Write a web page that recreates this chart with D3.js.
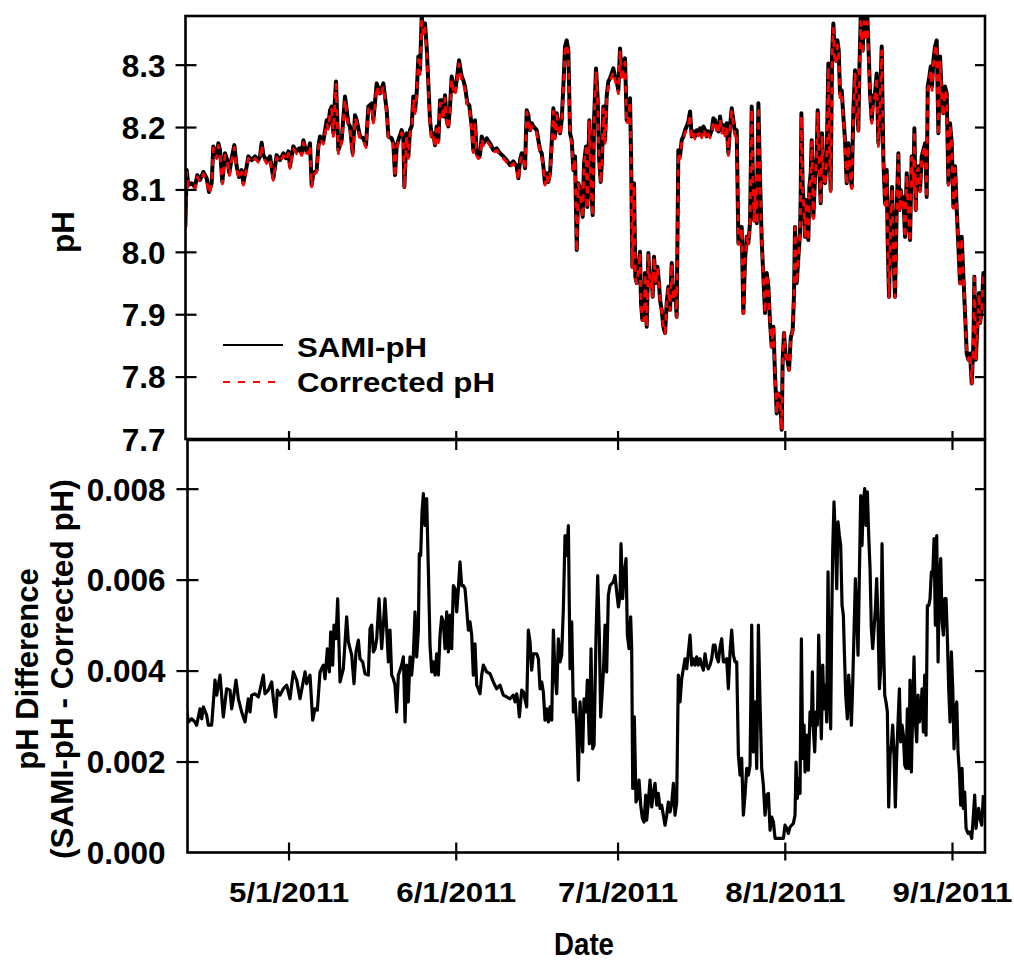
<!DOCTYPE html>
<html>
<head>
<meta charset="utf-8">
<script src="https://cdn.jsdelivr.net/npm/d3@7"></script>
<style>
  body { margin: 0; background: #fff; }
  text { font-family: "Liberation Sans", Arial, Helvetica, sans-serif; font-weight: bold; fill: #000; }
</style>
</head>
<body>
<svg id="chart" width="1014" height="961"></svg>
<script>
// Sample times are days counted from 1 April 2011 (UTC).
const recordStart = Date.UTC(2011, 3, 1);
const DAY_MS = 864e5;

// SAMI-pH record: [day, pH]
const samiPH = [
  [10.87,8.040],[11.12,8.131],[11.42,8.107],[12.04,8.110],[12.66,8.104],[13.09,8.123],[13.59,8.115],[14.21,8.128],
  [14.82,8.118],[15.26,8.096],[15.75,8.110],[16.06,8.169],[16.37,8.158],[16.68,8.153],[16.99,8.174],[17.30,8.163],
  [17.73,8.112],[18.22,8.158],[18.66,8.147],[19.03,8.126],[19.46,8.150],[19.95,8.171],[20.39,8.137],[20.82,8.120],
  [21.31,8.131],[21.62,8.110],[22.24,8.137],[22.55,8.153],[23.17,8.147],[23.79,8.153],[24.40,8.147],[24.71,8.153],
  [25.02,8.175],[25.33,8.155],[25.95,8.145],[26.57,8.153],[27.18,8.118],[27.80,8.155],[28.42,8.147],[29.04,8.158],
  [29.53,8.150],[29.97,8.161],[30.27,8.137],[30.89,8.169],[31.51,8.161],[32.00,8.166],[32.44,8.158],[32.75,8.179],
  [33.18,8.163],[33.67,8.161],[33.98,8.174],[34.29,8.107],[34.60,8.126],[35.22,8.131],[35.53,8.169],[35.84,8.185],
  [36.45,8.177],[37.07,8.211],[37.38,8.201],[37.69,8.227],[38.00,8.233],[38.31,8.190],[38.56,8.238],[38.80,8.273],
  [39.24,8.163],[39.85,8.179],[40.47,8.249],[41.09,8.206],[41.40,8.201],[41.89,8.158],[42.33,8.219],[42.64,8.211],
  [43.25,8.185],[43.87,8.182],[44.37,8.171],[44.80,8.233],[45.42,8.238],[45.73,8.211],[46.35,8.270],
  [46.96,8.254],[47.58,8.270],[48.20,8.227],[48.51,8.185],[49.12,8.182],[49.43,8.174],[49.74,8.123],[50.05,8.169],
  [50.36,8.179],[50.98,8.195],[51.29,8.185],[51.47,8.104],[51.90,8.190],[52.21,8.153],[52.52,8.195],[52.83,8.201],
  [53.14,8.249],[53.45,8.227],[53.76,8.254],[54.07,8.313],[54.38,8.291],[54.69,8.377],[55.00,8.355],[55.30,8.366],
  [55.61,8.329],[55.92,8.270],[56.23,8.211],[56.54,8.185],[56.85,8.190],[57.16,8.171],[57.47,8.201],[57.78,8.179],
  [58.09,8.243],[58.39,8.243],[58.70,8.217],[59.01,8.251],[59.32,8.211],[59.63,8.201],[59.94,8.233],[60.25,8.281],
  [60.56,8.265],[60.87,8.257],[61.18,8.275],[61.61,8.307],[62.10,8.281],[62.41,8.275],[62.72,8.265],[63.15,8.238],
  [63.52,8.235],[63.96,8.201],[64.26,8.163],[64.57,8.211],[64.88,8.158],[65.19,8.153],[65.50,8.155],[65.81,8.185],
  [66.12,8.174],[66.74,8.182],[67.36,8.174],[67.97,8.163],[68.59,8.166],[69.21,8.158],[69.83,8.153],[70.45,8.147],
  [71.06,8.139],[71.68,8.145],[72.30,8.137],[72.61,8.118],[72.92,8.147],[73.23,8.158],[73.54,8.153],[73.85,8.134],
  [74.15,8.227],[74.46,8.219],[74.77,8.195],[75.08,8.206],[75.39,8.201],[76.01,8.195],[76.63,8.163],[76.94,8.158],
  [77.24,8.137],[77.55,8.110],[77.86,8.126],[78.17,8.112],[78.48,8.126],[78.79,8.174],[79.10,8.230],[79.41,8.185],
  [79.72,8.222],[80.03,8.203],[80.34,8.190],[80.64,8.211],[80.95,8.265],[81.26,8.329],[81.57,8.339],[81.88,8.323],
  [82.19,8.190],[82.50,8.179],[82.81,8.131],[83.12,8.153],[83.43,8.003],[83.73,8.110],
  [84.04,8.099],[84.53,8.056],[84.78,8.142],[85.15,8.169],[85.40,8.072],[85.77,8.211],[86.02,8.120],[86.39,8.059],
  [86.64,8.211],[87.01,8.294],[87.32,8.243],[87.56,8.153],[87.87,8.112],[88.12,8.147],[88.37,8.233],[88.68,8.179],
  [88.98,8.249],[89.29,8.273],[89.60,8.278],[89.91,8.286],[90.22,8.294],[90.53,8.281],[90.84,8.273],[91.15,8.259],
  [91.46,8.326],[91.77,8.281],[92.07,8.302],[92.38,8.310],[92.69,8.211],[93.00,8.217],[93.31,8.246],[93.50,8.158],
  [93.74,7.976],[94.05,8.110],[94.30,7.960],[94.55,7.950],[94.86,7.971],[95.16,8.000],[95.35,7.918],[95.60,7.891],
  [95.91,7.891],[96.09,7.966],[96.40,7.880],[96.71,7.998],[97.02,7.944],[97.33,7.960],[97.51,7.928],[97.76,7.992],
  [98.07,7.950],[98.38,7.976],[98.69,7.950],[98.87,7.923],[99.18,7.907],[99.49,7.880],[99.80,7.870],[100.11,7.918],
  [100.42,7.944],[100.73,7.907],[101.04,7.982],[101.35,7.923],[101.65,7.944],[101.96,7.896],[102.27,8.163],[102.58,8.153],
  [102.89,8.179],[103.20,8.185],[103.51,8.195],[103.82,8.201],[104.13,8.209],[104.44,8.225],[104.74,8.185],[105.05,8.193],
  [105.36,8.185],[105.67,8.195],[105.98,8.190],[106.29,8.198],[106.60,8.187],[106.91,8.201],[107.22,8.195],[107.53,8.185],
  [107.83,8.193],[108.14,8.187],[108.45,8.195],[108.76,8.214],[109.07,8.211],[109.38,8.198],[109.69,8.193],[110.00,8.217],
  [110.31,8.195],[110.62,8.203],[110.92,8.190],[111.23,8.206],[111.54,8.158],[111.85,8.201],[112.16,8.230],[112.47,8.211],
  [112.78,8.190],[113.09,8.195],[113.40,8.014],[113.71,8.014],[114.01,8.040],[114.32,7.902],[114.63,7.987],[114.94,8.024],
  [115.25,8.014],[115.56,8.046],[115.87,8.233],[116.05,8.137],[116.30,8.051],[116.55,8.104],[116.80,8.046],[117.11,8.238],
  [117.41,8.120],[117.72,8.019],[118.03,7.960],[118.34,7.902],[118.65,7.966],[118.96,7.944],[119.27,7.886],[119.58,7.848],
  [119.89,7.880],[120.20,7.800],[120.51,7.741],[120.81,7.773],
  [121.12,7.768],[121.43,7.715],[121.61,7.827],[121.86,7.870],[122.17,7.832],[122.48,7.827],[122.79,7.811],[123.10,7.862],
  [123.47,7.875],[123.72,7.934],[123.90,8.040],[124.21,7.950],[124.52,7.992],[124.83,8.030],[124.95,8.088],[125.08,8.222],
  [125.32,8.104],[125.57,8.067],[125.76,8.024],[125.94,8.083],[126.19,8.051],[126.37,8.019],[126.56,8.104],[126.81,8.126],
  [126.99,8.179],[127.30,8.056],[127.61,8.120],[127.92,8.158],[128.10,8.227],[128.41,8.131],[128.66,8.078],[128.91,8.190],
  [129.15,8.126],[129.46,8.110],[129.77,8.147],[130.08,8.302],[130.27,8.174],[130.51,8.099],[130.76,8.313],[131.01,8.366],
  [131.19,8.323],[131.50,8.307],[131.75,8.339],[132.00,8.323],[132.24,8.254],[132.55,8.259],[132.86,8.217],[133.17,8.179],
  [133.48,8.110],[133.79,8.174],[134.10,8.131],[134.41,8.104],[134.72,8.227],[135.03,8.291],[135.33,8.243],[135.64,8.195],
  [135.83,8.291],[136.08,8.377],[136.45,8.323],[136.70,8.377],[137.07,8.345],[137.31,8.377],[137.50,8.334],[137.81,8.254],
  [138.12,8.211],[138.43,8.249],[138.73,8.254],[139.04,8.286],[139.35,8.174],[139.66,8.238],[139.97,8.329],[140.28,8.147],
  [140.59,8.078],[140.90,8.131],[141.08,8.014],[141.33,7.928],[141.64,8.056],[141.89,8.104],[142.13,7.998],[142.44,7.928],
  [142.75,8.067],[143.06,8.158],[143.25,8.067],[143.49,8.099],[143.74,8.078],[143.99,8.088],[144.30,8.024],[144.61,8.126],
  [144.91,8.062],[145.22,8.019],[145.53,8.153],[145.84,8.110],[146.03,8.198],[146.27,8.067],[146.46,8.131],[146.77,8.137],
  [147.08,8.099],[147.39,8.153],[147.70,8.163],[148.00,8.174],[148.31,8.088],[148.50,8.265],[148.81,8.281],[149.06,8.297],
  [149.30,8.265],[149.55,8.307],[149.86,8.329],[150.17,8.339],[150.48,8.190],[150.79,8.313],[151.10,8.249],[151.40,8.222],
  [151.71,8.265],[152.02,8.254],[152.33,8.110],[152.64,8.206],[152.95,8.174],[153.26,8.072],[153.57,8.137],[153.88,8.067],
  [154.19,8.008],[154.49,7.950],[154.80,8.024],[155.11,7.960],[155.42,7.902],[155.73,7.837],[156.04,7.827],[156.35,7.837],
  [156.66,7.789],[156.97,7.853],[157.15,7.960],[157.40,7.827],[157.71,7.880],[158.02,7.934],[158.20,7.886],[158.51,7.907],
  [158.82,7.966],[159.07,7.923]
];

// SAMI-pH minus corrected pH: [day, difference]
const phDifference = [
  [11.12,0.00316],[11.42,0.00287],[12.04,0.00294],[12.66,0.00287],[12.97,0.00280],[13.59,0.00316],[13.90,0.00294],[14.21,0.00320],
  [14.82,0.00302],[15.13,0.00280],[15.75,0.00280],[16.37,0.00379],[16.68,0.00346],[17.30,0.00390],[17.91,0.00298],[18.53,0.00360],
  [19.15,0.00357],[19.46,0.00316],[19.77,0.00338],[20.26,0.00379],[20.70,0.00338],[21.31,0.00309],[21.93,0.00287],[22.55,0.00338],
  [22.86,0.00309],[23.17,0.00346],[23.79,0.00349],[24.40,0.00342],[24.71,0.00357],[25.33,0.00390],[25.64,0.00349],[26.26,0.00357],
  [26.88,0.00375],[27.18,0.00338],[27.62,0.00298],[27.93,0.00357],[28.42,0.00346],[29.04,0.00360],[29.66,0.00368],[30.27,0.00338],
  [30.89,0.00397],[31.51,0.00379],[32.13,0.00338],[33.06,0.00397],[33.37,0.00371],[33.98,0.00390],[34.48,0.00291],[34.91,0.00316],
  [35.34,0.00313],[35.84,0.00397],[36.45,0.00412],[36.76,0.00382],[37.20,0.00448],[37.57,0.00397],[37.82,0.00485],[38.19,0.00412],
  [38.43,0.00500],[38.80,0.00470],[39.11,0.00558],[39.55,0.00375],[40.16,0.00404],[40.78,0.00518],[41.09,0.00463],[41.71,0.00434],
  [42.14,0.00371],[42.51,0.00441],[42.95,0.00467],[43.25,0.00426],[43.75,0.00419],[44.18,0.00393],[44.80,0.00390],[45.11,0.00492],
  [45.42,0.00500],[45.73,0.00441],[46.04,0.00448],[46.35,0.00470],[46.78,0.00558],
  [47.27,0.00448],[47.58,0.00500],[47.89,0.00558],[48.20,0.00492],[48.51,0.00419],[48.81,0.00489],[49.12,0.00390],[49.43,0.00382],
  [49.74,0.00368],[50.05,0.00309],[50.36,0.00390],[50.98,0.00412],[51.29,0.00430],[51.60,0.00287],[51.90,0.00412],[52.21,0.00331],
  [52.52,0.00430],[52.83,0.00390],[53.14,0.00434],[53.45,0.00529],[53.76,0.00430],[54.07,0.00489],[54.25,0.00657],[54.50,0.00653],
  [54.75,0.00749],[55.00,0.00789],[55.30,0.00719],[55.61,0.00778],[55.92,0.00624],[56.23,0.00456],[56.54,0.00397],[56.85,0.00419],
  [57.16,0.00390],[57.47,0.00437],[57.78,0.00390],[58.09,0.00478],[58.39,0.00518],[58.70,0.00507],[59.01,0.00448],[59.32,0.00529],
  [59.63,0.00441],[59.94,0.00522],[60.25,0.00448],[60.56,0.00587],[60.87,0.00580],[61.18,0.00529],[61.49,0.00580],[61.79,0.00639],
  [62.10,0.00587],[62.41,0.00587],[62.72,0.00580],[63.03,0.00536],[63.34,0.00489],[63.65,0.00507],[63.96,0.00478],[64.26,0.00390],
  [64.57,0.00459],[64.88,0.00368],[65.19,0.00360],[65.50,0.00349],[65.81,0.00390],[66.12,0.00412],[66.74,0.00397],[67.36,0.00393],
  [67.97,0.00375],[68.59,0.00360],[69.21,0.00368],[69.83,0.00346],[70.45,0.00342],[71.06,0.00338],[71.68,0.00346],[71.99,0.00331],
  [72.30,0.00349],[72.61,0.00324],[72.79,0.00298],[73.23,0.00357],[73.54,0.00353],[74.15,0.00320],[74.46,0.00489],[74.77,0.00463],
  [75.08,0.00401],[75.39,0.00437],[76.01,0.00437],[76.32,0.00426],[76.63,0.00360],[76.94,0.00375],[77.24,0.00353],[77.55,0.00291],
  [77.86,0.00316],[78.17,0.00287],[78.48,0.00320],[78.79,0.00291],[79.10,0.00489],[79.41,0.00390],[79.72,0.00349],[80.03,0.00470],
  [80.34,0.00419],[80.64,0.00434],[80.95,0.00536],[81.26,0.00697],[81.57,0.00653],[81.88,0.00719],[82.19,0.00404],[82.50,0.00507],
  [82.81,0.00309],[83.12,0.00338],[83.43,0.00280],[83.73,0.00159],
  [84.04,0.00331],[84.53,0.00221],[84.78,0.00338],[85.15,0.00309],[85.40,0.00379],[85.77,0.00239],[86.08,0.00448],[86.39,0.00228],
  [86.64,0.00236],[87.01,0.00478],[87.32,0.00609],[87.62,0.00478],[87.87,0.00298],[88.12,0.00346],[88.37,0.00397],[88.68,0.00500],
  [88.98,0.00397],[89.29,0.00565],[89.60,0.00587],[89.91,0.00591],[90.22,0.00595],[90.53,0.00609],[90.84,0.00573],[91.15,0.00540],
  [91.46,0.00565],[91.64,0.00679],[91.95,0.00558],[92.20,0.00609],[92.57,0.00646],[92.82,0.00478],[93.13,0.00448],[93.43,0.00518],
  [93.62,0.00448],[93.81,0.00141],[94.11,0.00298],[94.42,0.00111],[94.67,0.00119],[94.98,0.00159],[95.29,0.00104],[95.60,0.00075],
  [95.91,0.00067],[96.22,0.00126],[96.40,0.00071],[96.71,0.00111],[97.02,0.00159],[97.33,0.00100],[97.64,0.00133],[97.95,0.00152],
  [98.26,0.00104],[98.56,0.00130],[98.87,0.00097],[99.18,0.00104],[99.49,0.00082],[99.80,0.00060],[100.11,0.00082],[100.42,0.00111],
  [100.73,0.00089],[101.04,0.00108],[101.35,0.00152],[101.65,0.00082],[101.96,0.00111],[102.27,0.00390],[102.58,0.00331],[102.89,0.00382],
  [103.20,0.00404],[103.51,0.00426],[103.82,0.00404],[104.13,0.00441],[104.44,0.00478],[104.74,0.00412],[105.05,0.00426],[105.36,0.00412],
  [105.67,0.00430],[105.98,0.00412],[106.29,0.00426],[106.60,0.00412],[106.91,0.00401],[107.22,0.00437],[107.53,0.00412],[107.83,0.00404],
  [108.14,0.00412],[108.45,0.00426],[108.76,0.00456],[109.07,0.00456],[109.38,0.00430],[109.69,0.00419],[110.00,0.00452],[110.31,0.00470],
  [110.62,0.00419],[110.92,0.00419],[111.23,0.00426],[111.54,0.00360],[111.85,0.00441],[112.16,0.00489],[112.47,0.00434],[112.78,0.00419],
  [113.09,0.00419],[113.40,0.00214],[113.71,0.00170],[114.01,0.00207],[114.32,0.00082],[114.63,0.00126],[114.94,0.00185],[115.25,0.00170],
  [115.56,0.00192],[115.87,0.00500],[116.18,0.00221],[116.49,0.00331],[116.80,0.00185],[117.11,0.00500],[117.41,0.00331],[117.72,0.00185],
  [118.03,0.00148],[118.34,0.00082],[118.65,0.00126],[118.96,0.00130],[119.27,0.00049],[119.58,0.00078],[119.89,0.00067],[120.20,0.00031],
  [120.81,0.00031],
  [121.12,0.00031],[121.74,0.00031],[122.05,0.00060],[122.36,0.00053],[122.67,0.00042],[122.97,0.00056],[123.28,0.00060],[123.59,0.00064],
  [123.90,0.00082],[124.09,0.00199],[124.33,0.00119],[124.58,0.00163],[124.83,0.00130],[125.08,0.00470],[125.32,0.00207],[125.57,0.00280],
  [125.76,0.00177],[126.06,0.00258],[126.37,0.00181],[126.68,0.00309],[126.93,0.00280],[127.12,0.00397],[127.30,0.00272],[127.55,0.00221],
  [127.80,0.00309],[128.04,0.00280],[128.29,0.00478],[128.54,0.00346],[128.78,0.00250],[129.03,0.00412],[129.28,0.00316],[129.53,0.00368],
  [129.77,0.00287],[130.02,0.00617],[130.27,0.00346],[130.51,0.00272],[130.70,0.00507],[130.89,0.00668],[131.13,0.00771],[131.38,0.00690],
  [131.63,0.00580],[131.87,0.00727],[132.12,0.00697],[132.37,0.00675],[132.62,0.00543],[132.86,0.00522],[133.05,0.00441],[133.30,0.00346],
  [133.60,0.00294],[133.85,0.00390],[134.10,0.00346],[134.35,0.00280],[134.59,0.00368],[134.84,0.00485],[135.09,0.00602],[135.33,0.00522],
  [135.58,0.00434],[135.83,0.00609],[136.08,0.00785],[136.32,0.00675],[136.57,0.00771],[136.82,0.00800],[137.07,0.00719],[137.31,0.00793],
  [137.56,0.00697],[137.81,0.00624],[138.05,0.00492],[138.30,0.00448],[138.55,0.00492],[138.80,0.00536],[139.04,0.00602],[139.29,0.00507],
  [139.54,0.00360],[139.79,0.00404],[140.03,0.00679],[140.28,0.00478],[140.53,0.00346],[140.77,0.00331],[141.02,0.00309],[141.27,0.00100],
  [141.52,0.00214],[141.76,0.00236],[142.01,0.00280],[142.26,0.00214],[142.50,0.00100],[142.75,0.00214],[143.00,0.00287],[143.25,0.00360],
  [143.49,0.00243],[143.74,0.00280],[143.99,0.00258],[144.24,0.00192],[144.48,0.00185],[144.73,0.00316],[144.98,0.00185],[145.22,0.00379],
  [145.47,0.00177],[145.72,0.00316],[145.96,0.00430],[146.21,0.00287],[146.46,0.00243],[146.71,0.00346],[146.95,0.00287],[147.20,0.00302],
  [147.45,0.00360],[147.70,0.00265],[147.94,0.00390],[148.19,0.00258],[148.44,0.00543],[148.69,0.00543],[148.93,0.00558],[149.18,0.00617],
  [149.43,0.00609],[149.67,0.00690],[149.92,0.00500],[150.17,0.00697],[150.42,0.00419],[150.66,0.00602],[150.91,0.00646],[151.16,0.00507],
  [151.40,0.00478],[151.65,0.00558],[151.90,0.00558],[152.15,0.00470],[152.39,0.00360],[152.64,0.00287],[152.89,0.00441],[153.14,0.00360],
  [153.38,0.00228],[153.63,0.00316],[153.88,0.00331],[154.12,0.00221],[154.37,0.00177],[154.62,0.00104],[154.86,0.00185],[155.11,0.00097],
  [155.36,0.00133],[155.61,0.00053],[155.98,0.00042],[156.35,0.00045],[156.66,0.00031],[156.97,0.00082],[157.21,0.00126],[157.46,0.00053],
  [157.71,0.00082],[157.95,0.00097],[158.20,0.00075],[158.51,0.00060],[158.82,0.00126]
];

const seriesNames = ["SAMI-pH", "Corrected pH"];
const phTicks = [7.7, 7.8, 7.9, 8.0, 8.1, 8.2, 8.3];
const diffTicks = [0, 0.002, 0.004, 0.006, 0.008];
const dateTicks = [[2011, 4, 1], [2011, 5, 1], [2011, 6, 1], [2011, 7, 1], [2011, 8, 1]];
const dateTickLabels = ["5/1/2011", "6/1/2011", "7/1/2011", "8/1/2011", "9/1/2011"];

const toDate = d => new Date(recordStart + d * DAY_MS);
const tickDates = dateTicks.map(([y, m, d]) => new Date(Date.UTC(y, m, d)));

// Layout of the two stacked panels
const L = 185.5, R = 985, L2 = 187.5;
const top1 = 16, bot1 = 439;
const top2 = 440, bot2 = 852.5;

const x = d3.scaleUtc().domain([toDate(10.9), toDate(159.12)]).range([L, R]);
const yPH = d3.scaleLinear().domain([7.7, 8.378]).range([bot1, top1]);
const yDiff = d3.scaleLinear().domain([0, 0.00907]).range([bot2, top2]);

const svg = d3.select("#chart");
const defs = svg.append("defs");
defs.append("clipPath").attr("id", "clip-ph")
  .append("rect").attr("x", L).attr("y", top1).attr("width", R - L).attr("height", bot1 - top1);
defs.append("clipPath").attr("id", "clip-diff")
  .append("rect").attr("x", L2).attr("y", top2).attr("width", R - L2).attr("height", bot2 - top2);

// Corrected pH = SAMI-pH minus the difference measured at the nearest sample time
const diffAt = d3.bisector(d => d[0]).center;
const correctedPH = samiPH.map(([d, v]) => [d, v - phDifference[diffAt(phDifference, d)][1]]);

const phLine = d3.line().x(d => x(toDate(d[0]))).y(d => yPH(d[1]));
const diffLine = d3.line().x(d => x(toDate(d[0]))).y(d => yDiff(d[1]));

// Top panel: pH records
const gTop = svg.append("g").attr("clip-path", "url(#clip-ph)");
gTop.append("path").datum(samiPH)
  .attr("fill", "none").attr("stroke", "#000").attr("stroke-width", 4)
  .attr("stroke-linejoin", "round").attr("d", phLine);
gTop.append("path").datum(correctedPH)
  .attr("fill", "none").attr("stroke", "#ff0000").attr("stroke-width", 2.8)
  .attr("stroke-dasharray", "7,6").attr("stroke-linejoin", "round").attr("d", phLine);

// Bottom panel: difference
svg.append("g").attr("clip-path", "url(#clip-diff)")
  .append("path").datum(phDifference)
  .attr("fill", "none").attr("stroke", "#000").attr("stroke-width", 3.2)
  .attr("stroke-linejoin", "round").attr("d", diffLine);

// Panel frames
[[L, top1, bot1], [L2, top2, bot2]].forEach(([l, t, b]) => {
  svg.append("rect").attr("x", l).attr("y", t).attr("width", R - l).attr("height", b - t)
    .attr("fill", "none").attr("stroke", "#000").attr("stroke-width", 2.6);
});

function styleAxis(g, crossOut, attr) {
  g.select(".domain").remove();
  g.selectAll(".tick line").attr("stroke", "#000").attr("stroke-width", 2.2);
  if (crossOut !== null) g.selectAll(".tick line").attr(attr, crossOut);
}

const yLabelFont = 31.5;
const xLabelFont = 28;

// Left axes (ticks crossing the frame, labels right-aligned)
const gPHLeft = svg.append("g").attr("transform", `translate(${L},0)`)
  .call(d3.axisLeft(yPH).tickValues(phTicks).tickSize(-11).tickPadding(20).tickFormat(d3.format(".1f")));
styleAxis(gPHLeft, -10, "x1");
gPHLeft.selectAll(".tick").filter(d => d === 7.7).select("line").remove();

const gDiffLeft = svg.append("g").attr("transform", `translate(${L2},0)`)
  .call(d3.axisLeft(yDiff).tickValues(diffTicks).tickSize(-11).tickPadding(22).tickFormat(d3.format(".3f")));
styleAxis(gDiffLeft, -11, "x1");
gDiffLeft.selectAll(".tick").filter(d => d === 0).select("line").remove();

[gPHLeft, gDiffLeft].forEach(g => g.selectAll(".tick text")
  .attr("font-size", yLabelFont).attr("font-family", null).attr("fill", "#000").attr("dy", "0.36em"));

// Right axes (inner ticks only)
const gPHRight = svg.append("g").attr("transform", `translate(${R},0)`)
  .call(d3.axisRight(yPH).tickValues(phTicks.filter(v => v > 7.7)).tickSize(-10).tickFormat(""));
styleAxis(gPHRight, null);
const gDiffRight = svg.append("g").attr("transform", `translate(${R},0)`)
  .call(d3.axisRight(yDiff).tickValues(diffTicks.filter(v => v > 0)).tickSize(-10).tickFormat(""));
styleAxis(gDiffRight, null);

// Date ticks across the panel boundary
const gMid = svg.append("g").attr("transform", `translate(0,${top2})`)
  .call(d3.axisTop(x).tickValues(tickDates).tickSize(-10).tickFormat(""));
styleAxis(gMid, -9, "y1");

// Bottom date axis with labels
const gBottom = svg.append("g").attr("transform", `translate(0,${bot2})`)
  .call(d3.axisBottom(x).tickValues(tickDates).tickSize(-10).tickPadding(30)
    .tickFormat((d, i) => dateTickLabels[i]));
styleAxis(gBottom, 8, "y1");
gBottom.selectAll(".tick text")
  .attr("font-size", xLabelFont).attr("font-family", null).attr("fill", "#000")
  .attr("dy", "0.71em").attr("textLength", 120).attr("lengthAdjust", "spacingAndGlyphs");

// Axis titles
svg.append("text").attr("transform", "translate(74,232) rotate(-90)")
  .attr("text-anchor", "middle").attr("font-size", 31.5).text("pH");
svg.append("text").attr("transform", "translate(37.5,669) rotate(-90)")
  .attr("text-anchor", "middle").attr("font-size", 31).text("pH Difference");
svg.append("text").attr("transform", "translate(72.5,669) rotate(-90)")
  .attr("text-anchor", "middle").attr("font-size", 31.5).text("(SAMI-pH - Corrected pH)");
svg.append("text").attr("x", 584).attr("y", 955)
  .attr("text-anchor", "middle").attr("font-size", 31)
  .attr("textLength", 60).attr("lengthAdjust", "spacingAndGlyphs").text("Date");

// Legend
const legend = svg.append("g");
legend.append("line").attr("x1", 223).attr("x2", 283).attr("y1", 345).attr("y2", 345)
  .attr("stroke", "#000").attr("stroke-width", 2);
legend.append("line").attr("x1", 223).attr("x2", 283).attr("y1", 382).attr("y2", 382)
  .attr("stroke", "#ff0000").attr("stroke-width", 2.2).attr("stroke-dasharray", "7,8");
legend.append("text").attr("x", 297).attr("y", 356.5).attr("font-size", 28)
  .attr("textLength", 130).attr("lengthAdjust", "spacingAndGlyphs").text(seriesNames[0]);
legend.append("text").attr("x", 297).attr("y", 391.5).attr("font-size", 28)
  .attr("textLength", 198).attr("lengthAdjust", "spacingAndGlyphs").text(seriesNames[1]);
</script>
</body>
</html>
